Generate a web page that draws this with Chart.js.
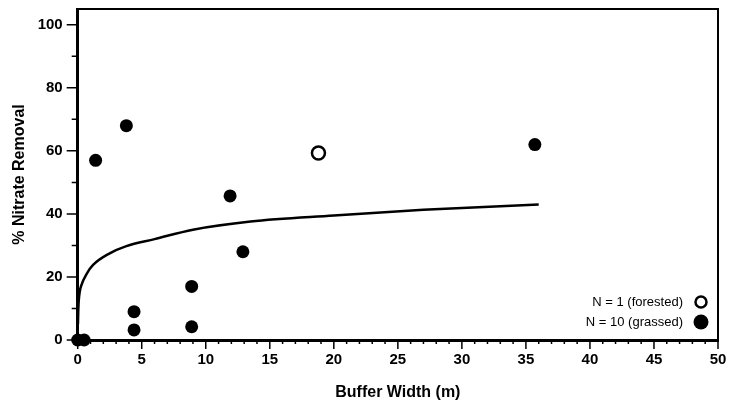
<!DOCTYPE html>
<html>
<head>
<meta charset="utf-8">
<script src="https://cdn.jsdelivr.net/npm/chart.js@4.4.1/dist/chart.umd.min.js"></script>
<style>
  html, body { margin: 0; padding: 0; background: #fff; }
  #wrap { width: 732px; height: 402px; position: relative; }
</style>
</head>
<body>
<div id="wrap"><canvas id="c"></canvas></div>
<script>
// ---- data ----
const grassedX = [0, 0.5, 1.4, 3.8, 4.4, 4.4, 8.9, 8.9, 11.9, 12.9, 35.7];
const grassedY = [0, 0, 57, 68, 9, 3.2, 17, 4.2, 45.7, 28, 62];
const forestedX = [18.8];
const forestedY = [59.3];
const curveX = [0.02, 0.05, 0.15, 0.3, 0.7, 1.2, 2.5, 3.8, 6, 9, 13.5, 20, 27, 36];
const curveY = [5, 10, 15, 17.5, 21, 23.8, 27.5, 29.8, 32, 35, 37.6, 39.5, 41.3, 43];
const xMajorTicks = [0, 5, 10, 15, 20, 25, 30, 35, 40, 45, 50];
const xMinorTicks = [1,2,3,4,6,7,8,9,11,12,13,14,16,17,18,19,21,22,23,24,26,27,28,29,31,32,33,34,36,37,38,39,41,42,43,44,46,47,48,49];
const yMajorTicks = [0, 20, 40, 60, 80, 100];
const yMinorTicks = [10, 30, 50, 70, 90];
const labelForested = 'N = 1 (forested)';
const labelGrassed = 'N = 10 (grassed)';
const xTitle = 'Buffer Width (m)';
const yTitle = '% Nitrate Removal';

const pts = (xs, ys) => xs.map((x, i) => ({ x: x, y: ys[i] }));

const decor = {
  id: 'decor',
  afterDraw(chart) {
    const ctx = chart.ctx;
    const a = chart.chartArea;
    const xs = chart.scales.x, ys = chart.scales.y;
    ctx.save();
    ctx.strokeStyle = '#000';
    // top and right frame
    ctx.lineWidth = 2;
    ctx.beginPath();
    ctx.moveTo(a.left, a.top);
    ctx.lineTo(a.right, a.top);
    ctx.lineTo(a.right, a.bottom);
    ctx.stroke();
    // ticks
    ctx.lineWidth = 1.5;
    ctx.beginPath();
    xMajorTicks.forEach(v => { const p = xs.getPixelForValue(v); ctx.moveTo(p, a.bottom); ctx.lineTo(p, a.bottom + 9); });
    xMinorTicks.forEach(v => { const p = xs.getPixelForValue(v); ctx.moveTo(p, a.bottom); ctx.lineTo(p, a.bottom + 4); });
    yMajorTicks.forEach(v => { const p = ys.getPixelForValue(v); ctx.moveTo(a.left, p); ctx.lineTo(a.left - 11, p); });
    yMinorTicks.forEach(v => { const p = ys.getPixelForValue(v); ctx.moveTo(a.left, p); ctx.lineTo(a.left - 6, p); });
    ctx.stroke();
    // legend (inside plot, bottom right)
    ctx.font = '13px "Liberation Sans Narrow", "Liberation Sans", Arial, sans-serif';
    ctx.fillStyle = '#000';
    ctx.textAlign = 'right';
    ctx.textBaseline = 'middle';
    const tx = 683, mx = 701;
    const y1 = 302, y2 = 322;
    ctx.fillText(chart.data.datasets[1].label, tx, y1);
    ctx.fillText(chart.data.datasets[2].label, tx, y2);
    ctx.lineWidth = 2.5;
    ctx.beginPath(); ctx.arc(mx, y1, 5.5, 0, Math.PI * 2); ctx.fillStyle = '#fff'; ctx.fill(); ctx.stroke();
    ctx.beginPath(); ctx.arc(mx, y2, 7.5, 0, Math.PI * 2); ctx.fillStyle = '#000'; ctx.fill();
    ctx.restore();
  }
};

new Chart(document.getElementById('c'), {
  type: 'scatter',
  data: {
    datasets: [
      {
        label: 'fit',
        data: pts(curveX, curveY),
        showLine: true,
        borderColor: '#000',
        borderWidth: 2.5,
        pointRadius: 0,
        cubicInterpolationMode: 'monotone',
        clip: false,
        order: 3
      },
      {
        label: labelForested,
        data: pts(forestedX, forestedY),
        pointRadius: 6.5,
        pointBackgroundColor: '#fff',
        pointBorderColor: '#000',
        pointBorderWidth: 2.5,
        clip: false,
        order: 1
      },
      {
        label: labelGrassed,
        data: pts(grassedX, grassedY),
        pointRadius: 6.5,
        pointBackgroundColor: '#000',
        pointBorderColor: '#000',
        pointBorderWidth: 0,
        clip: false,
        order: 2
      }
    ]
  },
  options: {
    responsive: true,
    maintainAspectRatio: false,
    animation: false,
    layout: { padding: { left: 10, right: 14, top: 9, bottom: 0 } },
    plugins: { legend: { display: false }, tooltip: { enabled: false } },
    scales: {
      x: {
        type: 'linear',
        min: 0, max: 50,
        afterBuildTicks: s => { s.ticks = xMajorTicks.map(v => ({ value: v })); },
        afterFit: s => { s.height = 62; s.paddingLeft = 0; s.paddingRight = 0; },
        grid: { display: false, drawTicks: false },
        border: { display: true, color: '#000', width: 3 },
        ticks: {
          padding: 11,
          color: '#000',
          font: { family: '"Liberation Sans", Arial, sans-serif', size: 15, weight: 'bold' },
          maxRotation: 0
        },
        title: {
          display: true,
          text: xTitle,
          color: '#000',
          padding: { top: 2, bottom: 0 },
          font: { family: '"Liberation Sans", Arial, sans-serif', size: 16, weight: 'bold' }
        }
      },
      y: {
        type: 'linear',
        min: 0, max: 105,
        afterBuildTicks: s => { s.ticks = yMajorTicks.map(v => ({ value: v })); },
        afterFit: s => { s.width = 67.7; s.paddingTop = 0; s.paddingBottom = 0; },
        grid: { display: false, drawTicks: false },
        border: { display: true, color: '#000', width: 3 },
        ticks: {
          padding: 15,
          color: '#000',
          font: { family: '"Liberation Sans", Arial, sans-serif', size: 15, weight: 'bold' }
        },
        title: {
          display: true,
          text: yTitle,
          color: '#000',
          padding: { top: 0, bottom: 0 },
          font: { family: '"Liberation Sans", Arial, sans-serif', size: 16, weight: 'bold' }
        }
      }
    }
  },
  plugins: [decor]
});
</script>
</body>
</html>
